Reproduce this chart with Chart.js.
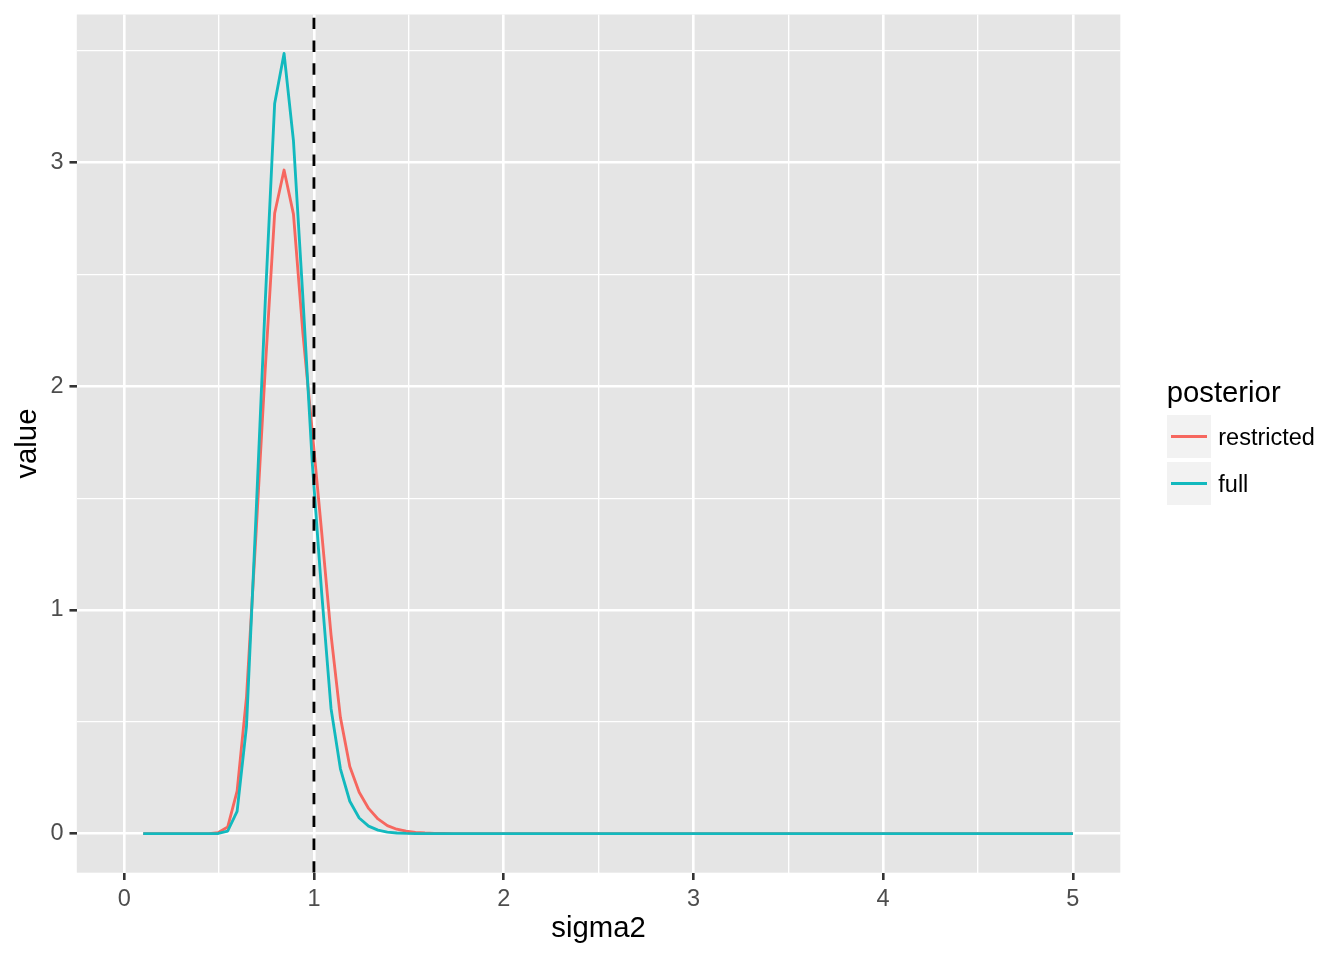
<!DOCTYPE html>
<html>
<head>
<meta charset="utf-8">
<script src="https://cdn.jsdelivr.net/npm/chart.js@4.4.0/dist/chart.umd.min.js"></script>
<style>
html,body{margin:0;padding:0;background:#fff;}
#wrap{position:relative;width:1344px;height:960px;overflow:hidden;}
#c{position:absolute;left:0;top:0;}
.lg{position:absolute;font-family:"Liberation Sans",Arial,Helvetica,sans-serif;color:#000;white-space:nowrap;line-height:1.2;}
.key{position:absolute;background:#F2F2F2;}
.keyline{position:absolute;}
</style>
</head>
<body>
<div id="wrap">
<canvas id="c" width="1344" height="960"></canvas>
<div id="legend"></div>
</div>
<script>
// ---- data ----
const sigma2 = [
0.1000,0.1495,0.1990,0.2485,0.2980,0.3475,0.3970,0.4465,0.4960,0.5455,
0.5949,0.6444,0.6939,0.7434,0.7929,0.8424,0.8919,0.9414,0.9909,1.0404,
1.0899,1.1394,1.1889,1.2384,1.2879,1.3374,1.3869,1.4364,1.4859,1.5354,
1.5848,1.6343,1.6838,1.7333,1.7828,1.8323,1.8818,1.9313,1.9808,2.0303,
2.0798,2.1293,2.1788,2.2283,2.2778,2.3273,2.3768,2.4263,2.4758,2.5253,
2.5747,2.6242,2.6737,2.7232,2.7727,2.8222,2.8717,2.9212,2.9707,3.0202,
3.0697,3.1192,3.1687,3.2182,3.2677,3.3172,3.3667,3.4162,3.4657,3.5152,
3.5646,3.6141,3.6636,3.7131,3.7626,3.8121,3.8616,3.9111,3.9606,4.0101,
4.0596,4.1091,4.1586,4.2081,4.2576,4.3071,4.3566,4.4061,4.4556,4.5051,
4.5545,4.6040,4.6535,4.7030,4.7525,4.8020,4.8515,4.9010,4.9505,5.0000
];
const restricted = [
0,0,0,0,0,0,0,0.0005,0.005,0.03,
0.19,0.61,1.33,2.08,2.774,2.967,2.77,2.24,1.80,1.35,
0.89,0.52,0.30,0.185,0.113,0.066,0.036,0.02,0.011,0.006,
0.003,0.0015,0.0007,0.0003,0,0,0,0,0,0,
0,0,0,0,0,0,0,0,0,0,
0,0,0,0,0,0,0,0,0,0,
0,0,0,0,0,0,0,0,0,0,
0,0,0,0,0,0,0,0,0,0,
0,0,0,0,0,0,0,0,0,0,
0,0,0,0,0,0,0,0,0,0
];
const full = [
0,0,0,0,0,0,0,0,0.001,0.012,
0.10,0.48,1.41,2.38,3.265,3.488,3.098,2.40,1.66,1.08,
0.56,0.29,0.145,0.07,0.034,0.016,0.007,0.003,0.0012,0.0005,
0,0,0,0,0,0,0,0,0,0,
0,0,0,0,0,0,0,0,0,0,
0,0,0,0,0,0,0,0,0,0,
0,0,0,0,0,0,0,0,0,0,
0,0,0,0,0,0,0,0,0,0,
0,0,0,0,0,0,0,0,0,0,
0,0,0,0,0,0,0,0,0,0
];
const seriesNames = ['restricted', 'full'];
const seriesColors = ['#F6675F', '#12B9BE'];
const vlineX = [1];
const xMajorTicks = [0, 1, 2, 3, 4, 5];
const xMinorTicks = [0.5, 1.5, 2.5, 3.5, 4.5];
const yMajorTicks = [0, 1, 2, 3];
const yMinorTicks = [0.5, 1.5, 2.5, 3.5];
const xRange = [-0.25, 5.25];
const yRange = [-0.1744, 3.6624];
const legendTitle = 'posterior';
const xTitle = 'sigma2';
const yTitle = 'value';

// ---- styling ----
const FONT = '"Liberation Sans", Arial, Helvetica, sans-serif';
const MAJOR_W = 2.6, MINOR_W = 1.35;
const TICK_LEN = 7.33;

function pts(ys){ return sigma2.map((x,i)=>({x:x, y:ys[i]})); }
const seriesValues = [restricted, full];

const panelBg = {
  id:'panelBg',
  beforeDraw(chart){
    const {ctx, chartArea:a} = chart;
    ctx.save();
    ctx.fillStyle = '#E5E5E5';
    ctx.fillRect(a.left, a.top, a.right-a.left, a.bottom-a.top);
    ctx.restore();
  }
};
const vline = {
  id:'vline',
  afterDatasetsDraw(chart){
    const {ctx, chartArea:a, scales} = chart;
    ctx.save();
    ctx.beginPath();
    ctx.rect(a.left, a.top, a.right-a.left, a.bottom-a.top);
    ctx.clip();
    ctx.strokeStyle = '#000';
    ctx.lineWidth = 2.85;
    ctx.lineCap = 'butt';
    ctx.setLineDash([11.4, 11.4]);
    vlineX.forEach(v=>{
      const px = scales.x.getPixelForValue(v);
      ctx.beginPath();
      ctx.moveTo(px, a.bottom);
      ctx.lineTo(px, a.top);
      ctx.stroke();
    });
    ctx.restore();
  }
};

function gridOpts(major){
  return {
    color:'#FFFFFF',
    lineWidth: c => (c.tick && major.includes(c.tick.value)) ? MAJOR_W : MINOR_W,
    tickColor: c => (c.tick && major.includes(c.tick.value)) ? '#333333' : 'rgba(0,0,0,0)',
    tickWidth: 2.6,
    tickLength: TICK_LEN,
    drawOnChartArea: true
  };
}

new Chart(document.getElementById('c'), {
  type:'line',
  data:{
    datasets: seriesNames.map((n,i)=>({
      label:n,
      data: pts(seriesValues[i]),
      borderColor: seriesColors[i],
      backgroundColor: seriesColors[i],
      borderWidth: 2.85,
      pointRadius: 0,
      tension: 0,
      fill: false,
      borderJoinStyle: 'round',
      order: seriesNames.length - i
    }))
  },
  options:{
    responsive:false,
    animation:false,
    devicePixelRatio:1,
    layout:{padding:{left:0, right:223.7, top:14.5, bottom:0}},
    plugins:{legend:{display:false}, tooltip:{enabled:false}},
    scales:{
      x:{
        type:'linear',
        min:xRange[0], max:xRange[1],
        afterBuildTicks: s => { s.ticks = [...xMajorTicks, ...xMinorTicks].sort((a,b)=>a-b).map(v=>({value:v})); },
        afterFit: s => { s.height = 87.3; s.paddingLeft = 0; s.paddingRight = 0; },
        ticks:{
          autoSkip:false, maxRotation:0, minRotation:0,
          callback: v => xMajorTicks.includes(v) ? String(v) : '',
          font:{family:FONT, size:23.5}, color:'#4D4D4D', padding:5.5
        },
        grid: gridOpts(xMajorTicks),
        border:{display:false},
        title:{display:true, text:xTitle, color:'#000', font:{family:FONT, size:29.3}, padding:{top:0, bottom:13.5}}
      },
      y:{
        type:'linear',
        min:yRange[0], max:yRange[1],
        afterBuildTicks: s => { s.ticks = [...yMajorTicks, ...yMinorTicks].sort((a,b)=>a-b).map(v=>({value:v})); },
        afterFit: s => { s.width = 76.8; s.paddingTop = 0; s.paddingBottom = 0; },
        ticks:{
          autoSkip:false,
          callback: v => yMajorTicks.includes(v) ? String(v) : '',
          font:{family:FONT, size:23.5}, color:'#4D4D4D', padding:5.87
        },
        grid: gridOpts(yMajorTicks),
        border:{display:false},
        title:{display:true, text:yTitle, color:'#000', font:{family:FONT, size:29.3}, padding:{top:10.2, bottom:0}}
      }
    }
  },
  plugins:[panelBg, vline]
});

// ---- legend (HTML) ----
const lg = document.getElementById('legend');
function el(cls, css, txt){
  const d = document.createElement('div');
  d.className = cls;
  Object.assign(d.style, css);
  if (txt !== undefined) d.textContent = txt;
  lg.appendChild(d);
  return d;
}
el('lg', {left:'1166.7px', top:'373.8px', fontSize:'29.3px'}, legendTitle);
const keyTop = [415, 461.7];
const labelTop = [423.3, 469.8];
seriesNames.forEach((n,i)=>{
  el('key', {left:'1167.3px', top:keyTop[i]+'px', width:'43.3px', height:'43.3px'});
  el('keyline', {left:'1170.7px', top:(keyTop[i]+21.65-1.42)+'px', width:'36.6px', height:'2.85px', background:seriesColors[i]});
  el('lg', {left:'1218.3px', top:labelTop[i]+'px', fontSize:'23.5px'}, n);
});
</script>
</body>
</html>
